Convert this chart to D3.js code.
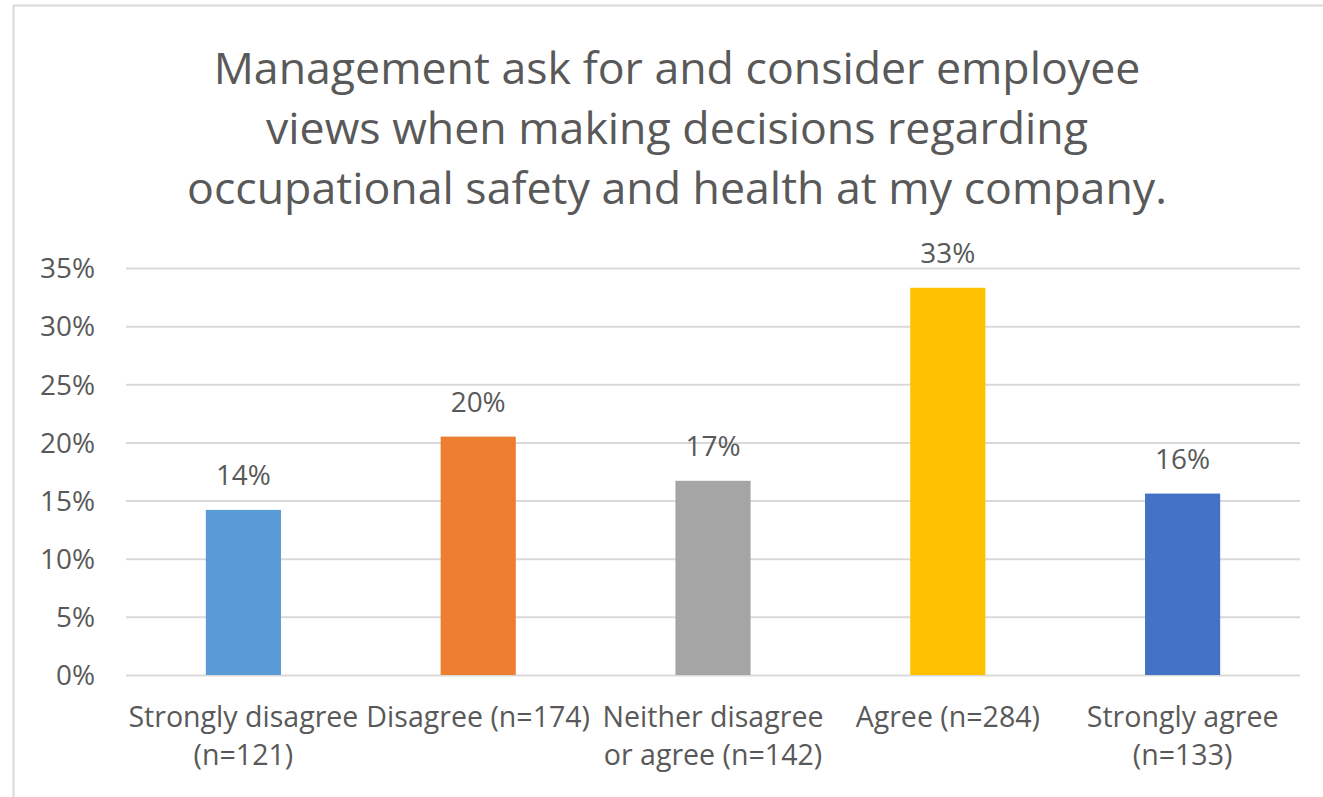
<!DOCTYPE html>
<html>
<head>
<meta charset="utf-8">
<script src="https://cdn.jsdelivr.net/npm/d3@7"></script>
<style>
  body { margin: 0; background: #fff; }
  text { font-family: "Open Sans", sans-serif; fill: #595959; }
</style>
</head>
<body>
<div id="chart"></div>
<script>
// chart data
var categories = ["Strongly disagree (n=121)", "Disagree (n=174)", "Neither disagree or agree (n=142)", "Agree (n=284)", "Strongly agree (n=133)"];
var labelLines = [["Strongly disagree", "(n=121)"], ["Disagree (n=174)"], ["Neither disagree", "or agree (n=142)"], ["Agree (n=284)"], ["Strongly agree", "(n=133)"]];
var values = [0.142, 0.205, 0.167, 0.333, 0.156];
var valueLabels = ["14%", "20%", "17%", "33%", "16%"];
var yTicks = [0, 0.05, 0.10, 0.15, 0.20, 0.25, 0.30, 0.35];
var colors = ["#5B9BD5", "#ED7D31", "#A5A5A5", "#FFC000", "#4472C4"];
var titleLines = ["Management ask for and consider employee", "views when making decisions regarding", "occupational safety and health at my company."];

var width = 1323, height = 797;
var plot = { left: 126, right: 1300, top: 268, bottom: 675 };

var svg = d3.select("#chart").append("svg")
    .attr("width", width)
    .attr("height", height);

// work out a font size so a sample string comes out at the wanted width
function fitSize(sample, target) {
    var t = svg.append("text").attr("font-size", 100).text(sample);
    var w = t.node().getComputedTextLength();
    t.remove();
    return 100 * target / w;
}
var tickSize = fitSize("35%", 55);
var catSize = fitSize("Strongly disagree", 230);
var titleSize = fitSize(titleLines[0], 927);

// outer chart border
svg.append("rect")
    .attr("x", 13.5).attr("y", 5.5)
    .attr("width", width + 10).attr("height", height + 10)
    .attr("fill", "none")
    .attr("stroke", "#d9d9d9")
    .attr("stroke-width", 2);

var x = d3.scaleBand()
    .domain(categories)
    .range([plot.left, plot.right])
    .paddingInner(0.68)
    .paddingOuter(0.34);

var y = d3.scaleLinear()
    .domain([0, 0.35])
    .range([plot.bottom, plot.top]);

// gridlines
var yAxis = d3.axisLeft(y)
    .tickValues(yTicks)
    .tickFormat(d3.format(".0%"))
    .tickSize(-(plot.right - plot.left))
    .tickPadding(31);

var gy = svg.append("g")
    .attr("transform", "translate(" + plot.left + ",0)")
    .call(yAxis);
gy.select(".domain").remove();
gy.selectAll(".tick line").attr("stroke", "#d9d9d9").attr("stroke-width", 2);
gy.selectAll(".tick text")
    .attr("font-size", tickSize)
    .attr("font-family", "'Open Sans', sans-serif")
    .attr("dy", "0.35em")
    .style("fill", "#595959");

// bars
svg.selectAll("rect.bar")
    .data(values)
    .enter().append("rect")
    .attr("class", "bar")
    .attr("x", function(d, i) { return x(categories[i]); })
    .attr("width", x.bandwidth())
    .attr("y", function(d) { return y(d); })
    .attr("height", function(d) { return y(0) - y(d); })
    .attr("fill", function(d, i) { return colors[i]; });

// value labels
svg.selectAll("text.val")
    .data(values)
    .enter().append("text")
    .attr("class", "val")
    .attr("x", function(d, i) { return x(categories[i]) + x.bandwidth() / 2; })
    .attr("y", function(d) { return y(d) - 25; })
    .attr("text-anchor", "middle")
    .attr("font-size", tickSize)
    .text(function(d, i) { return valueLabels[i]; });

// category labels, one text per line
var cat = svg.selectAll("g.cat")
    .data(categories)
    .enter().append("g")
    .attr("class", "cat")
    .attr("transform", function(d) { return "translate(" + (x(d) + x.bandwidth() / 2) + ",727)"; });
cat.selectAll("text")
    .data(function(d, i) { return labelLines[i]; })
    .enter().append("text")
    .attr("text-anchor", "middle")
    .attr("font-size", catSize)
    .attr("y", function(d, j) { return j * 38; })
    .text(function(d) { return d; });

// title
svg.append("text")
    .attr("text-anchor", "middle")
    .attr("font-size", titleSize)
    .selectAll("tspan")
    .data(titleLines)
    .enter().append("tspan")
    .attr("x", 677)
    .attr("y", function(d, i) { return 84 + i * 60; })
    .text(function(d) { return d; });
</script>
</body>
</html>
